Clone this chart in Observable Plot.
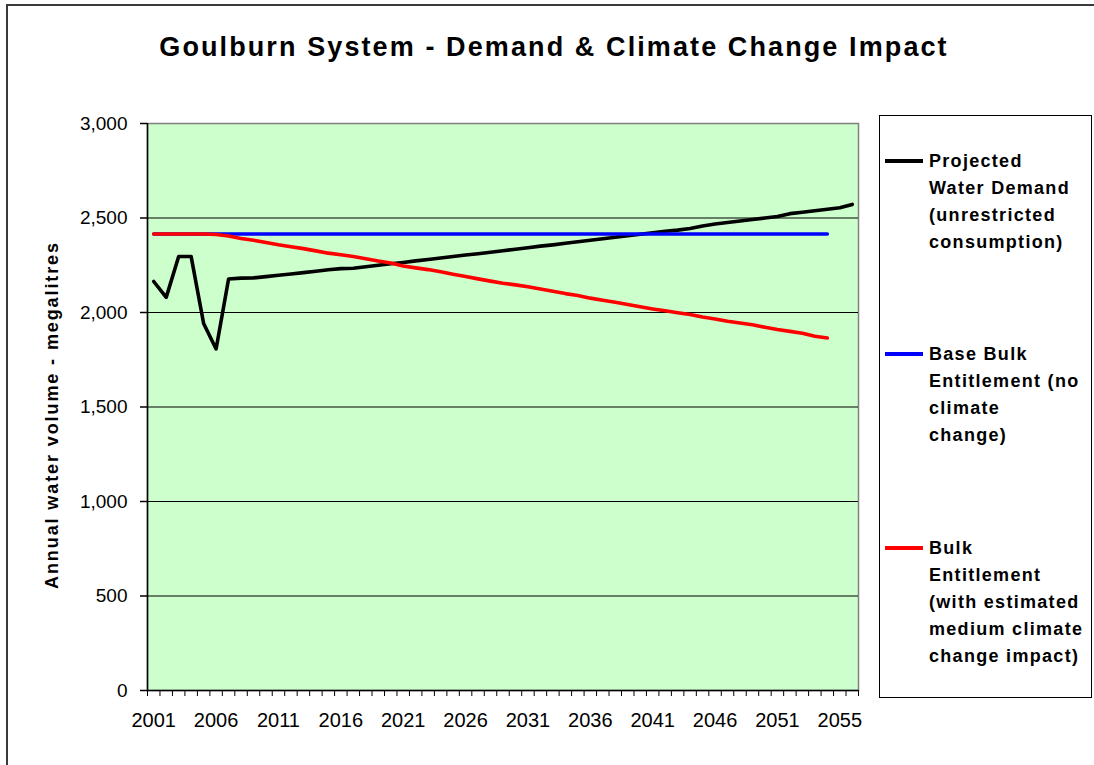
<!DOCTYPE html>
<html>
<head>
<meta charset="utf-8">
<script src="https://cdn.jsdelivr.net/npm/d3@7"></script>
<script src="https://cdn.jsdelivr.net/npm/@observablehq/plot@0.6"></script>
<style>
  html, body { margin: 0; padding: 0; background: #fff; overflow: hidden; }
  #wrap { position: relative; width: 1094px; height: 765px; overflow: hidden; font-family: Arial, "Liberation Sans", sans-serif; color: #000; }
  #border { position: absolute; left: 6px; top: 4px; width: 1200px; height: 800px; border: 2px solid #3a3a3a; border-bottom: none; }
  #title { position: absolute; left: 0; width: 1108px; top: 32px; text-align: center; font-weight: bold; font-size: 27px; letter-spacing: 2.1px; white-space: nowrap; }
  #chart { position: absolute; left: 0; top: 0; }
  #ylabel { position: absolute; left: 52px; top: 415px; transform: translate(-50%, -50%) rotate(-90deg); font-weight: bold; font-size: 18px; letter-spacing: 1.9px; white-space: nowrap; }
  #legend { position: absolute; left: 879px; top: 115px; width: 211px; height: 581px; border: 1.5px solid #000; overflow: hidden; background: #fff; }
  .swatch { position: absolute; left: 5px; width: 38px; height: 4px; }
  .ltext { position: absolute; left: 49px; font-weight: bold; font-size: 18px; letter-spacing: 1.3px; line-height: 27px; white-space: nowrap; }
  #chart svg .xlab text { font-size: 20px; }
  #chart svg .ylab text { font-size: 19px; }
</style>
</head>
<body>
<div id="wrap">
  <div id="border"></div>
  <div id="title"></div>
  <div id="chart"></div>
  <div id="ylabel"></div>
  <div id="legend"></div>
</div>
<script>
// ---- Data ----
const title = "Goulburn System - Demand & Climate Change Impact";
const yLabel = "Annual water volume - megalitres";

// category tick labels (shown every 5th category)
const xTickLabels = ["2001","2006","2011","2016","2021","2026","2031","2036","2041","2046","2051","2055"];
const yTicks = [0, 500, 1000, 1500, 2000, 2500, 3000];

// Projected Water Demand (unrestricted consumption) - 57 categories
const demand = [2164, 2080, 2296, 2296, 1942, 1807, 2177, 2182, 2183, 2190,
                2197, 2204, 2211, 2218, 2226, 2232, 2234, 2242, 2250, 2258,
                2265, 2273, 2280, 2288, 2296, 2304, 2311, 2319, 2327, 2335,
                2343, 2351, 2358, 2366, 2374, 2382, 2390, 2398, 2406, 2414,
                2422, 2430, 2436, 2444, 2458, 2468, 2476, 2484, 2492, 2500,
                2508, 2523, 2530, 2538, 2546, 2554, 2572];

// Base Bulk Entitlement (no climate change) - 55 categories
const baseBE = [2415, 2415, 2415, 2415, 2415, 2415, 2415, 2415, 2415, 2415,
                2415, 2415, 2415, 2415, 2415, 2415, 2415, 2415, 2415, 2415,
                2415, 2415, 2415, 2415, 2415, 2415, 2415, 2415, 2415, 2415,
                2415, 2415, 2415, 2415, 2415, 2415, 2415, 2415, 2415, 2415,
                2415, 2415, 2415, 2415, 2415, 2415, 2415, 2415, 2415, 2415,
                2415, 2415, 2415, 2415, 2415];

// Bulk Entitlement (with estimated medium climate change impact) - 55 categories
const climateBE = [2415, 2415, 2415, 2415, 2415, 2413, 2405, 2392, 2382, 2370,
                   2358, 2348, 2338, 2326, 2314, 2306, 2296, 2284, 2272, 2262,
                   2246, 2236, 2227, 2216, 2202, 2190, 2178, 2166, 2155, 2146,
                   2136, 2124, 2112, 2100, 2090, 2076, 2065, 2054, 2042, 2030,
                   2019, 2009, 1999, 1989, 1976, 1966, 1954, 1944, 1935, 1922,
                   1910, 1900, 1890, 1874, 1865];

const seriesNames = [
  ["Projected", "Water Demand", "(unrestricted", "consumption)"],
  ["Base Bulk", "Entitlement (no", "climate", "change)"],
  ["Bulk", "Entitlement", "(with estimated", "medium climate", "change impact)"]
];
const seriesColors = ["#000000", "#0000FF", "#FF0000"];
const seriesData = [demand, baseBE, climateBE];

// ---- Build ----
document.getElementById("title").textContent = title;
document.getElementById("ylabel").textContent = yLabel;

const nCat = demand.length;
const labelIdx = xTickLabels.map((_, k) => k * 5);
const fmt = d3.format(",");

const lineMarks = seriesData.map((arr, s) =>
  Plot.line(arr.map((v, i) => ({i: i + 0.5, v})), {
    x: "i", y: "v", stroke: seriesColors[s], strokeWidth: 3.6,
    strokeLinejoin: "round", strokeLinecap: "round"
  })
);

const chart = Plot.plot({
  width: 870,
  height: 765,
  marginLeft: 147,
  marginRight: 12,
  marginTop: 123,
  marginBottom: 75,
  x: {type: "linear", domain: [0, nCat]},
  y: {domain: [0, 3000]},
  style: {fontFamily: "Arial, 'Liberation Sans', sans-serif", fontSize: "18px", color: "#000", background: "transparent", overflow: "visible"},
  marks: [
    Plot.frame({fill: "#CCFFCC", stroke: "#808080", strokeWidth: 1.5}),
    Plot.gridY(yTicks.filter(d => d > 0 && d < 3000), {stroke: "#000", strokeOpacity: 1, strokeWidth: 1}),
    Plot.axisY({ticks: yTicks, tickSize: 7, tickPadding: 13, tickFormat: fmt, label: null, stroke: "#000", strokeWidth: 1.5, className: "ylab"}),
    Plot.axisX({ticks: d3.range(nCat + 1), tickSize: 6, tickFormat: () => "", label: null, stroke: "#000"}),
    Plot.axisX({ticks: labelIdx.map(i => i + 0.5), tickSize: 0, tickPadding: 22, tickFormat: (d) => xTickLabels[labelIdx.indexOf(d - 0.5)], label: null, className: "xlab"}),
    Plot.ruleX([0], {stroke: "#000", strokeWidth: 1.5}),
    Plot.ruleY([0], {stroke: "#000", strokeWidth: 1.5}),
    ...lineMarks
  ]
});
document.getElementById("chart").appendChild(chart);

// Legend
const legend = document.getElementById("legend");
const legendLineY = [45, 238, 432]; // relative to legend box top
seriesNames.forEach((lines, s) => {
  const sw = document.createElement("div");
  sw.className = "swatch";
  sw.style.top = (legendLineY[s] - 2) + "px";
  sw.style.background = seriesColors[s];
  legend.appendChild(sw);
  const t = document.createElement("div");
  t.className = "ltext";
  t.style.top = (legendLineY[s] - 13.5) + "px";
  t.innerHTML = lines.join("<br>");
  legend.appendChild(t);
});
</script>
</body>
</html>
